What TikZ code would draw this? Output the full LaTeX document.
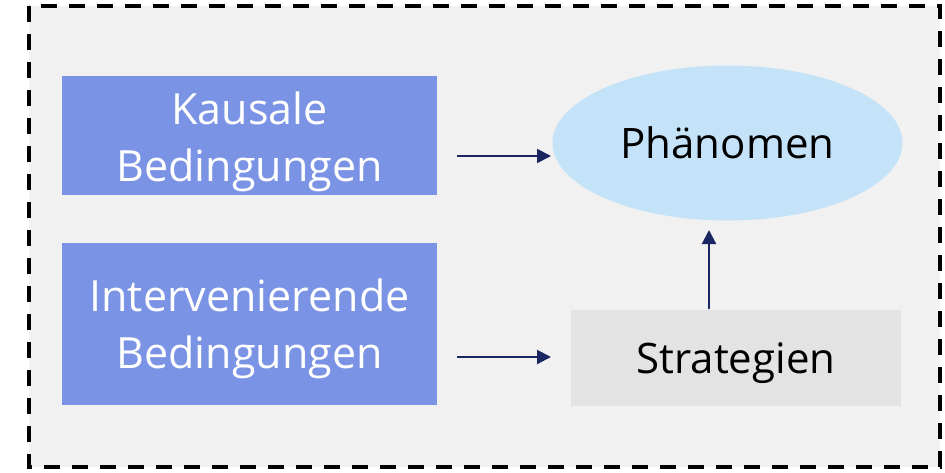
\documentclass[tikz,border=0pt]{standalone}
\usepackage{fontspec}
\setmainfont{Open Sans}
\usetikzlibrary{arrows.meta,shapes.geometric}
\definecolor{panelgray}{RGB}{241,241,241}
\definecolor{condblue}{RGB}{123,147,228}
\definecolor{phenblue}{RGB}{197,227,248}
\definecolor{stratgray}{RGB}{227,227,227}
\definecolor{navy}{RGB}{26,38,96}
\tikzset{
  condbox/.style={fill=condblue, minimum width=375pt, minimum height=119pt, inner sep=0pt},
  condtext/.style={text=white, inner sep=0pt, align=center, font=\fontsize{43}{57}\selectfont},
  bigtext/.style={inner sep=0pt, font=\fontsize{42}{56}\selectfont},
  link/.style={navy, line width=2pt, -{Triangle[length=14pt,width=14pt]}},
}
\begin{document}
\begin{tikzpicture}[x=1pt,y=-1pt]
  \useasboundingbox (0,0) rectangle (945,472);
  % dashed frame around the model
  \draw[fill=panelgray, line width=3.5pt, dash pattern=on 16pt off 12pt] (29,6) rectangle (940,467);
  % condition boxes
  \node[condbox] (kaus) at (249.5,135.5) {};
  \node[condtext] (kaustext) at ([yshift=-6pt]kaus.center) {Kausale\\Bedingungen};
  \node[condbox, minimum height=162pt] (interv) at (249.5,324) {};
  \node[condtext] (intervtext) at ([yshift=-5pt]interv.center) {Intervenierende\\Bedingungen};
  % phenomenon and strategies
  \node[ellipse, fill=phenblue, minimum width=350pt, minimum height=155pt, inner sep=0pt,
    bigtext] (phen) at (727.5,143) {Phänomen};
  \node[fill=stratgray, minimum width=330pt, minimum height=96pt] (strat) at (736,358) {};
  \node[bigtext] (strattext) at ([yshift=-5pt]strat.center) {Strategien};
  % connectors
  \coordinate (k0) at (457,156);
  \coordinate (k1) at (551,156);
  \coordinate (i0) at (457,357);
  \coordinate (i1) at (551,357);
  \coordinate (s0) at (709,309);
  \coordinate (s1) at (709,230);
  \draw[link] (k0) -- (k1);
  \draw[link] (i0) -- (i1);
  \draw[link] (s0) -- (s1);
\end{tikzpicture}
\end{document}
